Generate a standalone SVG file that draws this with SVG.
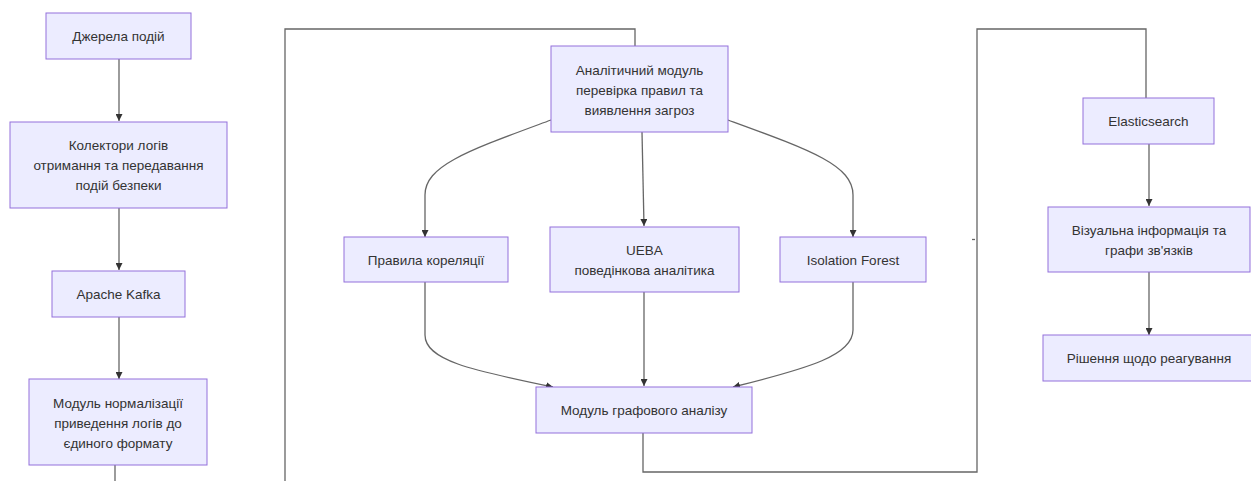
<svg xmlns="http://www.w3.org/2000/svg" width="1251" height="481" viewBox="0 0 1251 481">
<style>
.node rect{fill:#ECECFF;stroke:#9370DB;stroke-width:1}
.node text{font-family:"Liberation Sans",Arial,sans-serif;font-size:13.5px;fill:#333;text-anchor:middle}
.edge{fill:none;stroke:#666;stroke-width:1.3}
</style>
<defs>
<marker id="arr" viewBox="0 0 10 10" refX="10" refY="5" markerWidth="7" markerHeight="7" orient="auto" markerUnits="userSpaceOnUse">
<path d="M0,0 L10,5 L0,10 z" fill="#333"/>
</marker>
</defs>
<rect width="1251" height="481" fill="#fff"/>
<g id="connectors">
<path class="edge" d="M119,59 V121" marker-end="url(#arr)"/>
<path class="edge" d="M119,208 V270" marker-end="url(#arr)"/>
<path class="edge" d="M119,317 V379" marker-end="url(#arr)"/>
<path class="edge" d="M115,465 V481"/>
<path class="edge" d="M285,481 V29 H635 V46"/>
<path class="edge" d="M551,120 C470,150 425,165 425,195 V237" marker-end="url(#arr)"/>
<path class="edge" d="M642,132 L644,226" marker-end="url(#arr)"/>
<path class="edge" d="M728,120 C810,150 853,165 853,195 V237" marker-end="url(#arr)"/>
<path class="edge" d="M425,282 V335 C425,360 470,370 553,387" marker-end="url(#arr)"/>
<path class="edge" d="M644,292 V386" marker-end="url(#arr)"/>
<path class="edge" d="M853,282 V330 C853,355 810,368 733,387" marker-end="url(#arr)"/>
<path class="edge" d="M643,433 V472 H977 V29 H1146 V98"/>
<path class="edge" d="M972,239.5 H975" stroke="#999"/>
<path class="edge" d="M1149,144 V206" marker-end="url(#arr)"/>
<path class="edge" d="M1149,272 V335" marker-end="url(#arr)"/>
</g>
<g id="n1" class="node"><rect x="46" y="13" width="145" height="46"/><text x="118.5" y="41">Джерела подій</text></g>
<g id="n2" class="node"><rect x="10" y="122" width="217" height="86"/><text x="118.5" y="150">Колектори логів</text><text x="118.5" y="170">отримання та передавання</text><text x="118.5" y="190">подій безпеки</text></g>
<g id="n3" class="node"><rect x="52" y="271" width="133" height="46"/><text x="118.5" y="299">Apache Kafka</text></g>
<g id="n4" class="node"><rect x="29" y="379" width="178" height="86"/><text x="118" y="408">Модуль нормалізації</text><text x="118" y="428">приведення логів до</text><text x="118" y="448">єдиного формату</text></g>
<g id="n5" class="node"><rect x="551" y="46" width="177" height="86"/><text x="639.5" y="75">Аналітичний модуль</text><text x="639.5" y="95">перевірка правил та</text><text x="639.5" y="115">виявлення загроз</text></g>
<g id="n6" class="node"><rect x="344" y="237" width="164" height="45"/><text x="426" y="265">Правила кореляції</text></g>
<g id="n7" class="node"><rect x="550" y="227" width="189" height="65"/><text x="644.5" y="255">UEBA</text><text x="644.5" y="275">поведінкова аналітика</text></g>
<g id="n8" class="node"><rect x="780" y="237" width="146" height="45"/><text x="853" y="265">Isolation Forest</text></g>
<g id="n9" class="node"><rect x="536" y="387" width="216" height="46"/><text x="644" y="415">Модуль графового аналізу</text></g>
<g id="n10" class="node"><rect x="1083" y="98" width="131" height="46"/><text x="1148.5" y="126">Elasticsearch</text></g>
<g id="n11" class="node"><rect x="1048" y="207" width="202" height="65"/><text x="1149" y="235">Візуальна інформація та</text><text x="1149" y="255">графи зв'язків</text></g>
<g id="n12" class="node"><rect x="1043" y="335" width="212" height="46"/><text x="1149" y="363">Рішення щодо реагування</text></g>
</svg>
